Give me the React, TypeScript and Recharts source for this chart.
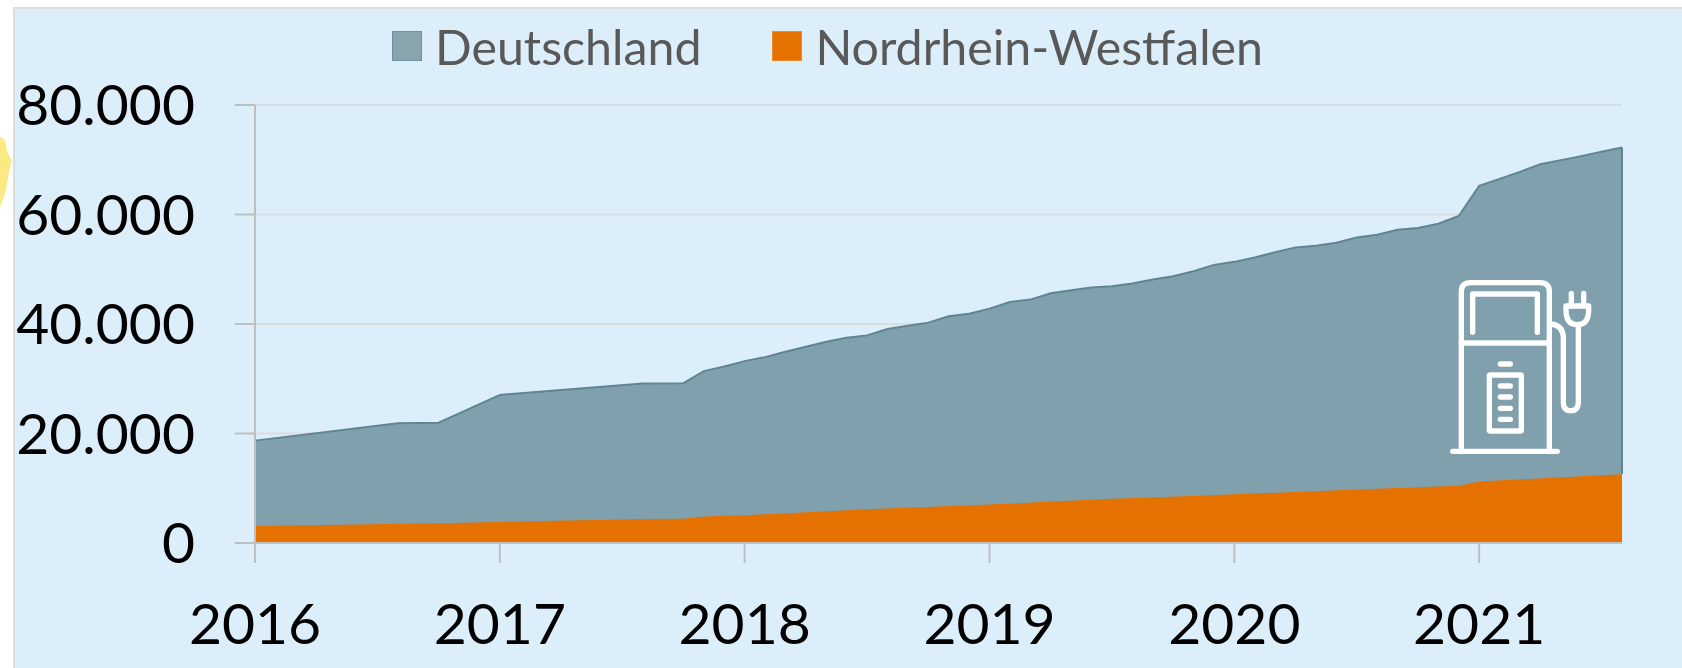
import React from 'react';
import { AreaChart, Area, XAxis, YAxis, CartesianGrid, Legend, ReferenceLine } from 'recharts';

// x position is months since Jan 2016, only the points where a kink can be read
const germanyMonths = [0, 7, 9, 12, 19, 21, 22, 23, 24, 25, 26, 27, 28, 29, 30, 31, 32, 33, 34, 35, 36, 37, 38, 39, 40, 41, 42, 43, 44, 45, 46, 47, 48, 49, 50, 51, 52, 53, 54, 55, 56, 57, 58, 59, 60, 61, 62, 63, 64, 65, 66, 67];
const germanyValues = [18700, 21860, 21980, 27050, 29130, 29190, 31390, 32240, 33220, 33950, 34930, 35850, 36770, 37500, 37920, 39080, 39700, 40250, 41400, 41890, 42810, 44020, 44460, 45620, 46170, 46660, 46900, 47400, 48120, 48730, 49650, 50800, 51350, 52160, 53130, 53990, 54280, 54830, 55820, 56300, 57210, 57520, 58310, 59720, 65220, 66500, 67780, 69190, 69930, 70660, 71450, 72240];

const nrwMonths = [0, 9, 12, 19, 21, 22, 24, 30, 36, 42, 44, 48, 54, 59, 60, 67];
const nrwValues = [3110, 3600, 3850, 4400, 4450, 4820, 5070, 6170, 7020, 8060, 8300, 8900, 9770, 10440, 11230, 12580];

const yearTicks = [0, 12, 24, 36, 48, 60];
const yearLabels = ['2016', '2017', '2018', '2019', '2020', '2021'];
const valueTicks = [0, 20000, 40000, 60000, 80000];

const germanyData = germanyMonths.map((month, i) => ({ month, value: germanyValues[i] }));
const nrwData = nrwMonths.map((month, i) => ({ month, value: nrwValues[i] }));

const FONT = 'Lato, sans-serif';
const AXIS_COLOR = '#BFBFBF';
const lastMonth = germanyMonths[germanyMonths.length - 1];
const lastValue = germanyValues[germanyValues.length - 1];
const lastNrw = nrwValues[nrwValues.length - 1];

const ChartLegend = ({ payload }: any) => (
  <div style={{ display: 'flex', alignItems: 'center', fontFamily: FONT, fontSize: 48.3, color: '#595959' }}>
    {payload.map((entry: any) => (
      <div key={entry.value} style={{ display: 'flex', alignItems: 'center', marginRight: 71 }}>
        <div style={{ width: 30, height: 30, boxSizing: 'border-box', background: entry.payload.fill === '#80A0AD' ? '#8AA4AE' : entry.payload.fill, border: `1px solid ${entry.payload.fill === '#80A0AD' ? '#6F929F' : '#EE8A2A'}`, marginRight: 13 }} />
        <span>{entry.value}</span>
      </div>
    ))}
  </div>
);

// charging station pictogram, traced in its own 906x720 box
const PumpIcon = () => (
  <svg width={302} height={240} viewBox="0 0 906 720" style={{ position: 'absolute', left: 1380, top: 250 }}
    fill="none" stroke="#fff" strokeWidth={16} strokeLinecap="round" strokeLinejoin="round">
    <path d="M244 600 V125 Q244 98 272 98 H480 Q508 98 508 125 V600" />
    <path d="M278 247 V132 H472 V247" />
    <path d="M244 279 H508" />
    <path d="M218 604 H532" />
    <rect x={328} y={375} width={96} height={168} rx={3} />
    <path d="M361 342 H391 M361 408 H391 M361 441 H391 M361 475 H391 M361 508 H391" />
    <path d="M512 222 Q550 225 550 265 V455 Q550 482 572 482 Q595 482 595 455 V225" />
    <path d="M558 168 H626 V180 Q626 224 592 224 Q558 224 558 180 Z" />
    <path d="M574 130 V168 M611 130 V168" />
  </svg>
);

export default function App() {
  return (
    <div style={{ position: 'fixed', left: 0, top: 0, width: 1682, height: 668, background: '#fff', overflow: 'hidden' }}>
      <style>{`.recharts-cartesian-grid line { mix-blend-mode: multiply; }`}</style>
      <svg width={14} height={80} style={{ position: 'absolute', left: 0, top: 130 }}>
        <path d="M0 7 Q4 7 6 15 Q7 25 12 30 Q8 45 6 60 Q3 70 0 77 Z" fill="#FBE983" />
      </svg>
      <div style={{ position: 'absolute', left: 13, top: 7, right: 0, bottom: 0, background: '#DDEEFB', borderLeft: '2px solid #D9DDE0', borderTop: '2px solid #DEDEDE', boxSizing: 'border-box' }} />
      <div style={{ position: 'absolute', left: 0, top: 0 }}>
        <AreaChart width={1682} height={668} margin={{ top: 105, right: 60, bottom: 37, left: 0 }}>
          <XAxis
            type="number"
            dataKey="month"
            domain={[0, lastMonth]}
            ticks={yearTicks}
            tickFormatter={(m: number) => yearLabels[yearTicks.indexOf(m)]}
            interval={0}
            tick={{ fill: '#000', fontFamily: FONT, fontSize: 57 }}
            tickSize={20}
            tickMargin={41}
            axisLine={{ stroke: AXIS_COLOR, strokeWidth: 2 }}
            tickLine={{ stroke: AXIS_COLOR, strokeWidth: 2 }}
            allowDuplicatedCategory={false}
          />
          <YAxis
            type="number"
            width={255}
            domain={[0, 80000]}
            ticks={valueTicks}
            tickFormatter={(v: number) => v.toLocaleString('de-DE')}
            tick={{ fill: '#000', fontFamily: FONT, fontSize: 57 }}
            tickSize={20}
            tickMargin={40}
            axisLine={{ stroke: AXIS_COLOR, strokeWidth: 2 }}
            tickLine={{ stroke: AXIS_COLOR, strokeWidth: 2 }}
          />
          <Area
            data={germanyData}
            dataKey="value"
            name="Deutschland"
            type="linear"
            fill="#80A0AD"
            fillOpacity={1}
            stroke="#5F8592"
            strokeWidth={2}
            legendType="square"
            isAnimationActive={false}
          />
          <Area
            data={nrwData}
            dataKey="value"
            name="Nordrhein-Westfalen"
            type="linear"
            fill="#E57200"
            fillOpacity={1}
            stroke="none"
            legendType="square"
            isAnimationActive={false}
          />
          <ReferenceLine segment={[{ x: lastMonth, y: lastNrw }, { x: lastMonth, y: lastValue }]} stroke="#5F8592" strokeWidth={2} />
          <CartesianGrid horizontal vertical={false} stroke="#FEEEE2" strokeWidth={2} />
          <Legend
            content={<ChartLegend />}
            wrapperStyle={{ position: 'absolute', left: 392, top: 17, width: 1000 }}
          />
        </AreaChart>
      </div>
      <PumpIcon />
    </div>
  );
}
